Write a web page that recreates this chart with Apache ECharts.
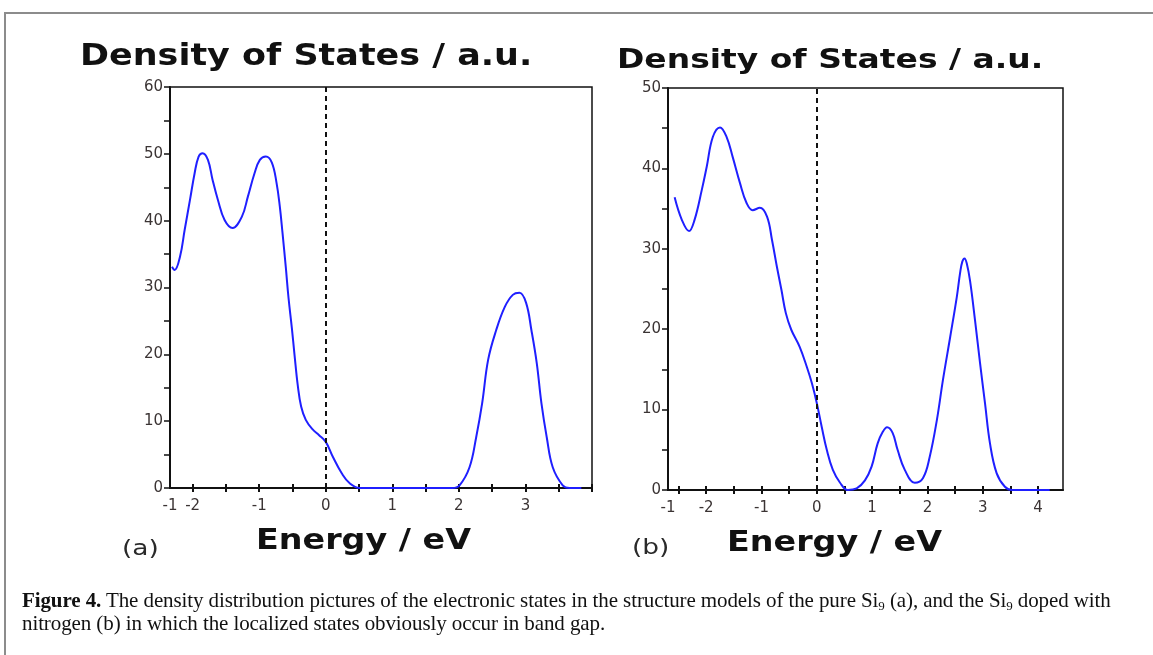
<!DOCTYPE html>
<html>
<head>
<meta charset="utf-8">
<script src="https://cdn.jsdelivr.net/npm/echarts@6/dist/echarts.min.js"></script>
<style>
  html, body { margin: 0; padding: 0; background: #fff; }
  #wrap { position: relative; width: 1153px; height: 655px; overflow: hidden; }
  #chart { position: absolute; left: 0; top: 0; width: 1153px; height: 655px; }
  #frame { position: absolute; left: 4px; top: 12px; width: 1300px; height: 800px;
           border-left: 2px solid #8c8c8c; border-top: 2px solid #8c8c8c; }
  #caption { position: absolute; left: 22px; top: 589px; width: 1125px; white-space: nowrap;
             font-family: "Liberation Serif", serif; font-size: 21px; line-height: 23px; color: #111;
             letter-spacing: -0.1px; }
  #caption sub { font-size: 13px; vertical-align: -3px; line-height: 0; }
</style>
</head>
<body>
<div id="wrap">
  <div id="frame"></div>
  <div id="chart"></div>
  <div id="caption"><b>Figure 4.</b> The density distribution pictures of the electronic states in the structure models of the pure Si<sub>9</sub> (a), and the Si<sub>9</sub> doped with<br>nitrogen (b) in which the localized states obviously occur in band gap.</div>
</div>
<script>
// Panel (a): pure Si9 cluster, density of states vs energy (eV)
const energyA = [-2.31, -2.27, -2.19, -2.12, -2.04, -1.97, -1.91, -1.85, -1.77, -1.70, -1.62, -1.52,
  -1.40, -1.26, -1.17, -1.07, -0.99, -0.90, -0.81, -0.74, -0.69, -0.65, -0.60, -0.56, -0.51, -0.47,
  -0.42, -0.37, -0.30, -0.20, -0.10, 0.00, 0.11, 0.24, 0.36, 0.51, 1.90, 2.01, 2.16, 2.26, 2.35, 2.44, 2.56,
  2.69, 2.81, 2.91, 3.01, 3.09, 3.17, 3.24, 3.32, 3.41, 3.56, 3.66, 3.84];
const dosA = [33.1, 32.6, 34.6, 38.6, 43.1, 47.1, 49.6, 50.1, 49.1, 46.1, 43.1, 40.1,
  38.9, 40.6, 43.6, 47.1, 49.1, 49.6, 48.7, 45.7, 42.1, 38.2, 33.0, 28.5, 24.0, 20.0,
  15.3, 12.2, 10.2, 8.8, 7.9, 6.9, 4.6, 2.2, 0.7, 0.0, 0.0, 0.4, 3.1, 7.6, 12.7, 19.2, 23.6,
  27.1, 28.9, 29.2, 27.7, 23.6, 18.7, 12.7, 7.6, 3.1, 0.4, 0.0, 0.0];

// Panel (b): nitrogen-doped Si9
const energyB = [-2.57, -2.44, -2.31, -2.21, -2.08, -1.99, -1.88, -1.75, -1.63, -1.52, -1.39, -1.27,
  -1.16, -1.03, -0.90, -0.81, -0.72, -0.64, -0.56, -0.46, -0.31, -0.18, -0.09, 0.00, 0.09, 0.18,
  0.29, 0.42, 0.56, 0.72, 0.87, 0.99, 1.10, 1.19, 1.27, 1.37, 1.46, 1.59, 1.77, 1.92, 2.04, 2.17,
  2.28, 2.41, 2.53, 2.59, 2.63, 2.67, 2.71, 2.77, 2.86, 2.95, 3.04, 3.13, 3.25, 3.40, 3.53, 4.21];
const dosB = [36.4, 33.6, 32.2, 33.6, 37.3, 40.2, 43.9, 45.1, 43.9, 41.4, 38.2, 35.7,
  34.8, 35.1, 34.0, 31.1, 27.7, 24.9, 22.0, 19.9, 17.8, 15.3, 13.3, 10.8, 7.8, 5.0,
  2.5, 0.9, 0.0, 0.2, 1.2, 2.9, 5.8, 7.2, 7.8, 7.1, 5.0, 2.5, 0.9, 1.5, 4.1, 8.7,
  13.7, 19.0, 24.0, 27.0, 28.4, 28.8, 28.2, 26.0, 21.1, 15.8, 10.8, 5.8, 2.1, 0.4, 0.0, 0.0];

// Axis ranges and tick labels
const xRangeA = [-2.34, 4.0];
const xRangeB = [-2.69, 4.45];
const xLabelPosA = [-2.34, -2, -1, 0, 1, 2, 3];
const xLabelTextA = ['-1', '-2', '-1', '0', '1', '2', '3'];
const xLabelPosB = [-2.69, -2, -1, 0, 1, 2, 3, 4];
const xLabelTextB = ['-1', '-2', '-1', '0', '1', '2', '3', '4'];
const xTicksA = [-2, -1.5, -1, -0.5, 0, 0.5, 1, 1.5, 2, 2.5, 3, 3.5, 4];
const xTicksB = [-2.5, -2, -1.5, -1, -0.5, 0, 0.5, 1, 1.5, 2, 2.5, 3, 3.5, 4];
const yMaxA = 60, yMaxB = 50;
const yLabelsA = [0, 10, 20, 30, 40, 50, 60];
const yLabelsB = [0, 10, 20, 30, 40, 50];
const yTicksA = [0, 5, 10, 15, 20, 25, 30, 35, 40, 45, 50, 55, 60];
const yTicksB = [0, 5, 10, 15, 20, 25, 30, 35, 40, 45, 50];

const titleText = 'Density of States / a.u.';
const xTitleText = 'Energy / eV';
const panelTags = ['(a)', '(b)'];

const AXIS_FONT = '"DejaVu Sans", Verdana, sans-serif';
const LABEL_COLOR = '#3b3434';

function pairs(xs, ys) { return xs.map((x, i) => [x, ys[i]]); }
function lookup(pos, text) {
  return function (v) {
    for (let i = 0; i < pos.length; i++) if (Math.abs(pos[i] - v) < 1e-6) return text[i];
    return '';
  };
}

function mainX(gridIndex, range, ticks, lpos, ltext) {
  return {
    type: 'value', gridIndex, position: 'bottom', min: range[0], max: range[1],
    axisLine: { show: true, onZero: false, lineStyle: { color: '#111', width: 2 } },
    axisTick: { show: true, customValues: ticks, length: 4, lineStyle: { color: '#111', width: 2 } },
    axisLabel: { show: true, customValues: lpos, formatter: lookup(lpos, ltext),
      color: LABEL_COLOR, fontFamily: AXIS_FONT, fontSize: 15, margin: 11 },
    splitLine: { show: false }
  };
}
function innerX(gridIndex, range, ticks) {
  return {
    type: 'value', gridIndex, position: 'bottom', min: range[0], max: range[1],
    axisLine: { show: false, onZero: false },
    axisTick: { show: true, inside: true, customValues: ticks, length: 4, lineStyle: { color: '#111', width: 2 } },
    axisLabel: { show: false }, splitLine: { show: false }
  };
}
function mainY(gridIndex, max, ticks, labels) {
  return {
    type: 'value', gridIndex, min: 0, max: max,
    axisLine: { show: true, onZero: false, lineStyle: { color: '#111', width: 2 } },
    axisTick: { show: true, customValues: ticks, length: 6, lineStyle: { color: '#111', width: 1.5 } },
    axisLabel: { show: true, customValues: labels, color: LABEL_COLOR, fontFamily: AXIS_FONT,
      fontSize: 15, margin: 7 },
    splitLine: { show: false }
  };
}
function curve(xi, yi, data) {
  return {
    type: 'line', xAxisIndex: xi, yAxisIndex: yi, data: data,
    smooth: 0.4, showSymbol: false, symbol: 'none', silent: true, clip: true,
    lineStyle: { color: '#1f1fff', width: 2 },
    markLine: {
      silent: true, symbol: 'none', label: { show: false },
      lineStyle: { color: '#111', type: [5, 4], width: 2 },
      data: [{ xAxis: 0 }]
    }
  };
}
function text(x, y, str, size, weight, sx, color) {
  return {
    type: 'text', x: x, y: y, scaleX: sx, silent: true,
    style: { text: str, x: 0, y: 0, fontSize: size, fontWeight: weight, fontFamily: AXIS_FONT,
      fill: color, align: 'left', verticalAlign: 'middle' }
  };
}

const chart = echarts.init(document.getElementById('chart'), null, { renderer: 'canvas' });
chart.setOption({
  animation: false,
  backgroundColor: 'transparent',
  grid: [
    { left: 170, top: 87, width: 422, height: 401, show: true, borderColor: '#111', borderWidth: 1.5, backgroundColor: 'transparent' },
    { left: 668, top: 88, width: 395, height: 402, show: true, borderColor: '#111', borderWidth: 1.5, backgroundColor: 'transparent' }
  ],
  xAxis: [
    mainX(0, xRangeA, xTicksA, xLabelPosA, xLabelTextA),
    innerX(0, xRangeA, xTicksA),
    mainX(1, xRangeB, xTicksB, xLabelPosB, xLabelTextB),
    innerX(1, xRangeB, xTicksB)
  ],
  yAxis: [
    mainY(0, yMaxA, yTicksA, yLabelsA),
    mainY(1, yMaxB, yTicksB, yLabelsB)
  ],
  series: [
    curve(0, 0, pairs(energyA, dosA)),
    curve(2, 1, pairs(energyB, dosB))
  ],
  graphic: [
    text(80, 57, titleText, 30, 'bold', 1.165, '#111'),
    text(617, 61, titleText, 27, 'bold', 1.22, '#111'),
    text(256, 541, xTitleText, 29, 'bold', 1.15, '#111'),
    text(727, 543, xTitleText, 29, 'bold', 1.15, '#111'),
    text(122, 549, panelTags[0], 22, 'normal', 1.2, '#2a2a2a'),
    text(632, 548, panelTags[1], 22, 'normal', 1.2, '#2a2a2a')
  ]
});
</script>
</body>
</html>
